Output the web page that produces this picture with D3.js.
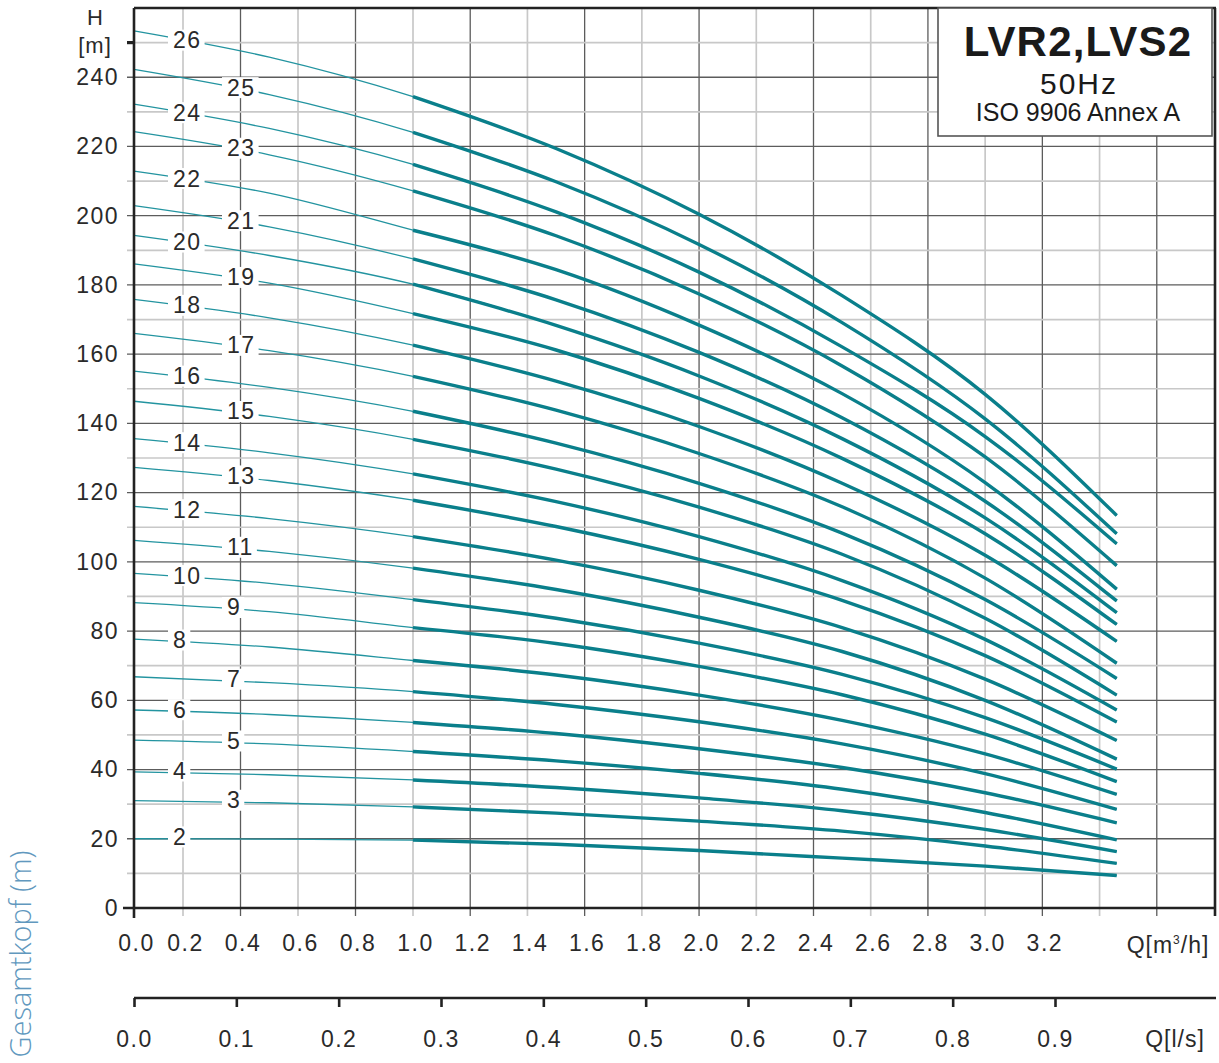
<!DOCTYPE html>
<html>
<head>
<meta charset="utf-8">
<script src="https://cdn.jsdelivr.net/npm/d3@7"></script>
<style>
  body { margin: 0; background: #fff; }
  svg { display: block; font-family: "Liberation Sans", Arial, sans-serif; }
</style>
</head>
<body>
<svg id="chart" width="1219" height="1063"></svg>
<script>
// Q [m3/h] at which each curve was read
const flowPoints = [0, 0.5, 1.0, 1.5, 2.0, 2.5, 3.0, 3.46];

// number of stages, one curve each
const stages = [26, 25, 24, 23, 22, 21, 20, 19, 18, 17, 16, 15, 14, 13, 12, 11, 10, 9, 8, 7, 6, 5, 4, 3, 2];

// H [m], same order as stages, same columns as flowPoints
const heads = [
  [253.4, 245.8, 234.4, 219.4, 200.4, 176.9, 148.4, 113.4],
  [242.3, 235.0, 224.1, 209.8, 191.7, 169.1, 141.3, 108.1],
  [232.2, 225.2, 214.8, 201.1, 183.7, 162.1, 136.2, 105.2],
  [224.3, 217.6, 207.2, 194.2, 177.4, 156.6, 130.3, 98.9],
  [212.9, 206.5, 195.8, 184.4, 168.4, 148.6, 122.9, 92.1],
  [202.9, 196.8, 187.5, 175.7, 160.5, 141.6, 117.5, 88.7],
  [194.3, 188.5, 180.2, 168.3, 153.7, 135.6, 112.7, 85.3],
  [186.1, 180.5, 171.7, 161.2, 147.2, 129.9, 108.1, 81.9],
  [175.8, 170.5, 162.6, 152.2, 139.1, 122.7, 101.9, 77.0],
  [166.0, 161.0, 153.6, 143.8, 131.3, 115.9, 95.3, 70.7],
  [155.1, 150.4, 143.5, 134.3, 122.7, 108.3, 89.1, 66.3],
  [146.4, 142.0, 135.4, 126.8, 115.8, 102.2, 83.7, 61.5],
  [135.6, 131.5, 125.4, 117.4, 107.3, 94.6, 77.6, 57.2],
  [127.3, 123.5, 117.8, 110.2, 100.7, 88.9, 72.9, 53.7],
  [116.0, 112.5, 107.3, 100.5, 91.8, 81.0, 66.1, 48.4],
  [106.2, 103.0, 98.2, 92.0, 84.0, 74.1, 60.0, 43.0],
  [96.7, 93.8, 89.1, 83.7, 76.5, 67.5, 55.0, 40.1],
  [88.2, 85.6, 81.0, 76.4, 69.8, 61.6, 50.2, 36.5],
  [77.7, 75.4, 71.5, 67.3, 61.5, 54.2, 44.5, 32.8],
  [66.8, 65.1, 62.5, 58.8, 53.8, 47.4, 38.8, 28.5],
  [57.2, 55.9, 53.6, 50.4, 46.0, 40.6, 33.3, 24.6],
  [48.5, 47.4, 45.2, 42.5, 38.9, 34.3, 27.6, 19.7],
  [39.3, 38.5, 37.0, 34.8, 31.8, 28.1, 22.7, 16.3],
  [31.0, 30.4, 29.2, 27.4, 25.1, 22.2, 17.9, 12.9],
  [20.0, 19.9, 19.6, 18.4, 16.6, 14.4, 12.1, 9.4],
];

const qTicks = [0, 0.2, 0.4, 0.6, 0.8, 1.0, 1.2, 1.4, 1.6, 1.8, 2.0, 2.2, 2.4, 2.6, 2.8, 3.0, 3.2];
const qLsTicks = [0, 0.1, 0.2, 0.3, 0.4, 0.5, 0.6, 0.7, 0.8, 0.9];
const hTicks = [0, 20, 40, 60, 80, 100, 120, 140, 160, 180, 200, 220, 240];
const titleLines = ['LVR2,LVS2', '50Hz', 'ISO 9906 Annex A'];

const thickColor = '#0a7f8b';
const thinColor = '#2394a0';
const darkGrid = '#5c5c5c';
const lightGrid = '#c8c8c8';
const axisColor = '#222';
const textColor = '#2a2a2a';
const tickFont = '23px';

const svg = d3.select('#chart');

// the first 0.2 step is drawn narrower in the original sheet
const x = d3.scaleLinear().domain([0, 0.2, 1.0, 3.8]).range([134, 183, 413, 1214]);
const y = d3.scaleLinear().domain([0, 260]).range([908, 8]);
const xLs = d3.scaleLinear().domain([0, 0.9]).range([134, 1055]);

// grid
const gridQ = d3.range(1, 19).map(i => i / 5);
const gridH = d3.range(1, 26).map(i => i * 10);
const grid = svg.append('g').attr('class', 'grid');

grid.selectAll('.vgrid')
  .data(gridQ)
  .enter()
  .append('line')
  .attr('class', 'vgrid')
  .attr('x1', d => x(d))
  .attr('x2', d => x(d))
  .attr('y1', y(260))
  .attr('y2', 916)
  .attr('stroke', d => (Math.round(d * 5) % 2 === 0 ? darkGrid : lightGrid))
  .attr('stroke-width', d => (Math.round(d * 5) % 2 === 0 ? 1.3 : 1.7));

grid.selectAll('.hgrid')
  .data(gridH)
  .enter()
  .append('line')
  .attr('class', 'hgrid')
  .attr('x1', 127)
  .attr('x2', x(3.8))
  .attr('y1', d => y(d))
  .attr('y2', d => y(d))
  .attr('stroke', d => (d % 20 === 0 ? darkGrid : lightGrid))
  .attr('stroke-width', d => (d % 20 === 0 ? 1.3 : 1.7));

// pump curves
const curveData = stages.map((s, i) => ({
  stage: s,
  points: flowPoints.map((q, j) => [q, heads[i][j]]),
}));

const line = d3.line()
  .x(d => x(d[0]))
  .y(d => y(d[1]))
  .curve(d3.curveMonotoneX);

const curves = svg.append('g').attr('class', 'curves')
  .selectAll('.curve')
  .data(curveData)
  .enter()
  .append('g')
  .attr('class', 'curve');

curves.append('path')
  .attr('d', d => line(d.points))
  .attr('fill', 'none')
  .attr('stroke', thinColor)
  .attr('stroke-width', 1.3);

curves.append('path')
  .attr('d', d => line(d.points.filter(p => p[0] >= 1.0)))
  .attr('fill', 'none')
  .attr('stroke', thickColor)
  .attr('stroke-width', 3.4)
  .attr('stroke-linecap', 'butt');

// stage labels sitting on the thin part of each curve
const headAt = (pts, q) => {
  const k = q <= pts[1][0] ? 0 : 1;
  const a = pts[k];
  const b = pts[k + 1];
  return a[1] + (b[1] - a[1]) * (q - a[0]) / (b[0] - a[0]);
};

const labels = svg.append('g').attr('class', 'labels')
  .selectAll('.stageLabel')
  .data(curveData)
  .enter()
  .append('g')
  .attr('class', 'stageLabel');

labels.each(function (d) {
  const g = d3.select(this);
  const left = d.stage % 2 === 0 ? 173 : 227;
  const txt = g.append('text')
    .attr('x', left)
    .attr('y', 0)
    .style('font-size', '23px')
    .style('letter-spacing', '1.5px')
    .attr('fill', textColor)
    .text(d.stage);
  const bb = txt.node().getBBox();
  const cq = x.invert(left + bb.width / 2);
  const cy = y(headAt(d.points, cq)) - 2.5;
  txt.attr('y', cy + 8.5);
  g.insert('rect', 'text')
    .attr('x', left - 5)
    .attr('y', cy - 10)
    .attr('width', bb.width + 8)
    .attr('height', 21)
    .attr('fill', '#fff');
});

// frame and axes
const frame = svg.append('g').attr('class', 'frame')
  .attr('stroke', axisColor)
  .attr('stroke-width', 2.6);
frame.append('line').attr('x1', 134).attr('x2', 134).attr('y1', y(260)).attr('y2', 918);
frame.append('line').attr('x1', 123).attr('x2', 1216).attr('y1', y(0)).attr('y2', y(0));
frame.append('line').attr('x1', 1215).attr('x2', 1215).attr('y1', y(260)).attr('y2', 916);
frame.append('line').attr('x1', 134).attr('x2', 1216).attr('y1', y(260)).attr('y2', y(260));
frame.append('line').attr('x1', 127).attr('x2', 134).attr('y1', y(250)).attr('y2', y(250))
  .attr('stroke-width', 3.2);

const styleTicks = sel => sel
  .style('font-size', tickFont)
  .style('letter-spacing', '1.5px')
  .style('font-family', '"Liberation Sans", Arial, sans-serif')
  .attr('fill', textColor);

const yAxis = svg.append('g')
  .attr('transform', 'translate(134,0)')
  .call(d3.axisLeft(y).tickValues(hTicks).tickSize(0).tickPadding(15).tickFormat(d3.format('d')));
yAxis.select('.domain').remove();
yAxis.selectAll('text').call(styleTicks);

const xAxis = svg.append('g')
  .attr('transform', `translate(0,${y(0)})`)
  .call(d3.axisBottom(x).tickValues(qTicks).tickSize(0).tickPadding(27).tickFormat(d3.format('.1f')));
xAxis.select('.domain').remove();
xAxis.selectAll('text').call(styleTicks).attr('dx', '2px');

const unitM3 = svg.append('text')
  .attr('x', 1168)
  .attr('y', 953)
  .attr('text-anchor', 'middle')
  .style('font-size', tickFont)
  .style('letter-spacing', '1px')
  .attr('fill', textColor);
unitM3.append('tspan').text('Q[m');
unitM3.append('tspan').attr('dy', -9).style('font-size', '12px').text('3');
unitM3.append('tspan').attr('dy', 9).text('/h]');

// second flow axis in l/s
const lsAxis = svg.append('g')
  .attr('transform', 'translate(0,998)')
  .call(d3.axisBottom(xLs).tickValues(qLsTicks).tickSize(9).tickPadding(24).tickFormat(d3.format('.1f')));
lsAxis.select('.domain').remove();
lsAxis.selectAll('.tick line')
  .attr('stroke', axisColor)
  .attr('stroke-width', 2.6);
lsAxis.selectAll('text').call(styleTicks);
svg.append('line')
  .attr('x1', 134).attr('x2', 1216)
  .attr('y1', 998).attr('y2', 998)
  .attr('stroke', axisColor)
  .attr('stroke-width', 2.6);

svg.append('text')
  .attr('x', 1175)
  .attr('y', 1047)
  .attr('text-anchor', 'middle')
  .style('font-size', tickFont)
  .style('letter-spacing', '1px')
  .attr('fill', textColor)
  .text('Q[l/s]');

// H [m] label
svg.append('text')
  .attr('x', 95).attr('y', 25)
  .attr('text-anchor', 'middle')
  .style('font-size', '22px')
  .attr('fill', textColor)
  .text('H');
svg.append('text')
  .attr('x', 95).attr('y', 53)
  .attr('text-anchor', 'middle')
  .style('font-size', '22px')
  .style('letter-spacing', '1px')
  .attr('fill', textColor)
  .text('[m]');

// side caption
svg.append('text')
  .attr('transform', 'translate(31,954) rotate(-90)')
  .attr('text-anchor', 'middle')
  .style('font-family', '"Open Sans", sans-serif')
  .style('font-weight', 300)
  .style('font-size', '29px')
  .attr('fill', '#6198be')
  .text('Gesamtkopf (m)');

// title box
const title = svg.append('g').attr('class', 'title');
title.append('rect')
  .attr('x', 938).attr('y', 8)
  .attr('width', 274).attr('height', 128)
  .attr('fill', '#fff')
  .attr('stroke', '#555')
  .attr('stroke-width', 1.6);
title.append('text')
  .attr('x', 1078).attr('y', 56)
  .attr('text-anchor', 'middle')
  .style('font-size', '42px')
  .style('font-weight', 'bold')
  .style('letter-spacing', '1.2px')
  .attr('fill', '#1a1a1a')
  .text(titleLines[0]);
title.append('text')
  .attr('x', 1079).attr('y', 94)
  .attr('text-anchor', 'middle')
  .style('font-size', '30px')
  .style('letter-spacing', '2px')
  .attr('fill', '#1a1a1a')
  .text(titleLines[1]);
title.append('text')
  .attr('x', 1078).attr('y', 121)
  .attr('text-anchor', 'middle')
  .style('font-size', '25px')
  .attr('fill', '#1a1a1a')
  .text(titleLines[2]);
</script>
</body>
</html>
